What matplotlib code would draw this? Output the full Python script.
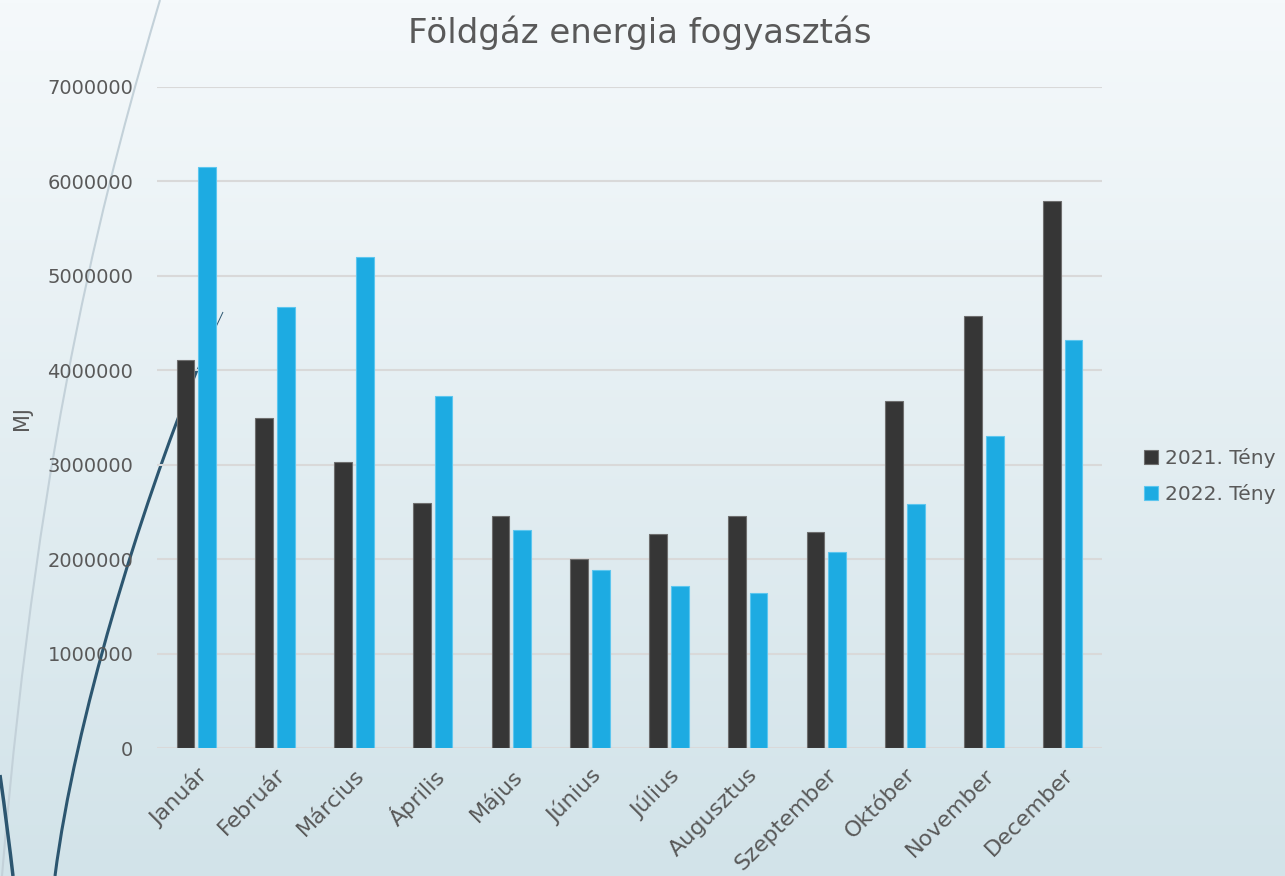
import numpy as np
import matplotlib
matplotlib.use("Agg")
import matplotlib.pyplot as plt
from matplotlib.path import Path
from matplotlib.patches import PathPatch

plt.rcParams['font.family'] = ['DejaVu Sans']

months = ['Január', 'Február', 'Március', 'Április', 'Május', 'Június',
          'Július', 'Augusztus', 'Szeptember', 'Október', 'November', 'December']
teny_2021 = [4110000, 3490000, 3030000, 2590000, 2460000, 2000000,
             2270000, 2460000, 2290000, 3680000, 4570000, 5790000]
teny_2022 = [6150000, 4670000, 5200000, 3730000, 2310000, 1880000,
             1720000, 1640000, 2080000, 2580000, 3300000, 4320000]
series_labels = ['2021. Tény', '2022. Tény']
yticks = [0, 1000000, 2000000, 3000000, 4000000, 5000000, 6000000, 7000000]

W, H = 1285, 876
fig = plt.figure(figsize=(W / 100, H / 100), dpi=100)

# background gradient
bg = fig.add_axes([0, 0, 1, 1], zorder=-10)
grad = np.linspace(0, 1, 256).reshape(-1, 1)
top = np.array([0xf5, 0xf9, 0xfb]) / 255
bot = np.array([0xd2, 0xe3, 0xe9]) / 255
img = top + (bot - top) * grad[:, :, None]
bg.imshow(img, aspect='auto', extent=[0, 1, 0, 1], origin='upper')
bg.set_axis_off()


def curve(pts, color, lw):
    # pts in pixel coords (origin top-left), cubic bezier chain
    verts = [(x / W, 1 - y / H) for x, y in pts]
    codes = [Path.MOVETO] + [Path.CURVE4] * (len(verts) - 1)
    fig.patches.append(PathPatch(Path(verts, codes), transform=fig.transFigure,
                                 facecolor='none', edgecolor=color, lw=lw,
                                 zorder=-5))


curve([(160, 0), (110, 170), (40, 420), (2, 876)], '#c3d1d9', 1.5)
curve([(223, 312), (212, 335), (205, 352), (197, 370)], '#2c5670', 0.7)
curve([(197, 370), (140, 510), (75, 720), (55, 876)], '#2c5670', 2.2)
curve([(0, 775), (5, 810), (10, 850), (13, 876)], '#2c5670', 2.5)

ax = fig.add_axes([157 / W, 1 - 748 / H, (1102 - 157) / W, (748 - 87) / H])
ax.set_facecolor('none')

x = np.arange(len(months))
w = 0.225
ax.bar(x - 0.138, teny_2021, w, color='#363636', edgecolor='#6e6e6e',
       linewidth=0.8, label=series_labels[0], zorder=3)
ax.bar(x + 0.138, teny_2022, w, color='#1dabe2', edgecolor='#5cc6ef',
       linewidth=0.8, label=series_labels[1], zorder=3)

ax.set_xlim(-0.5, len(months) - 0.5)
ax.set_ylim(0, 7000000)
ax.set_yticks(yticks)
ax.set_yticklabels([str(v) for v in yticks])
ax.yaxis.grid(True, color='#d9d9d9', linewidth=1.5, zorder=0)
ax.set_axisbelow(True)
for s in ax.spines.values():
    s.set_visible(False)
ax.tick_params(axis='both', length=0, colors='#595959')
ax.tick_params(axis='y', pad=17, labelsize=14)
ax.set_xticks(x)
ax.set_xticklabels(months, rotation=45, ha='right', rotation_mode='anchor')
ax.tick_params(axis='x', pad=12, labelsize=16)

fig.text(22 / W, 1 - 418 / H, 'MJ', rotation=90, ha='center', va='center',
         fontsize=15, color='#595959')
fig.text(640 / W, 1 - 33 / H, 'Földgáz energia fogyasztás', ha='center',
         va='center', fontsize=24.5, color='#595959')

leg = fig.legend(loc='center left', bbox_to_anchor=(1126 / W, 1 - 476 / H),
                 frameon=False, fontsize=14.5, handlelength=0.7,
                 handleheight=0.7, handletextpad=0.35, labelspacing=0.8,
                 labelcolor='#595959')

fig.savefig('out.png', dpi=100)
